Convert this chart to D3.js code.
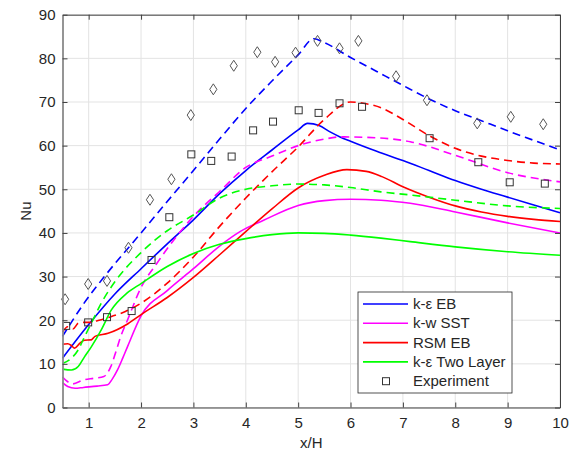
<!DOCTYPE html>
<html>
<head>
<meta charset="utf-8">
<script src="https://cdn.jsdelivr.net/npm/d3@7"></script>
<style>
  body { margin: 0; background: #fff; }
  text { font-family: "Liberation Sans", Arial, sans-serif; fill: #262626; }
</style>
</head>
<body>
<div class="chart"></div>
<script>
// k-e EB (solid / dashed)
const keEB_x = [0.5, 1, 1.5, 2, 2.5, 3, 3.5, 4, 4.5, 5, 5.18, 5.4, 5.6, 5.8, 6, 6.5, 7, 7.5, 8, 8.5, 9, 9.5, 10];
const keEB_y = [11.3, 19, 26, 31.8, 37.5, 43, 49, 54.3, 59, 63.6, 65.1, 64.6, 63.2, 62, 61, 58.7, 56.6, 54.3, 52, 50, 48.2, 46.4, 44.6];
const keEB2_x = [0.5, 0.9, 1.3, 2, 2.5, 3, 3.5, 4, 4.5, 5, 5.3, 5.5, 6, 6.5, 7, 7.5, 8, 8.5, 9, 9.5, 10];
const keEB2_y = [16.3, 23.7, 30, 40, 47.2, 54.3, 61.5, 68.5, 74.8, 80.8, 84.5, 83.6, 80.2, 77, 73.8, 70.7, 68, 65.7, 63.4, 61.2, 59];

// k-w SST
const kwSST_x = [0.5, 0.6, 0.74, 0.9, 1.16, 1.36, 1.45, 1.55, 1.65, 1.74, 2, 2.5, 3, 3.5, 3.89, 4.34, 5, 5.5, 6, 6.58, 7.14, 8, 9, 10];
const kwSST_y = [5.7, 4.8, 4.4, 4.6, 4.9, 5.2, 6.5, 8.6, 11.3, 13.9, 21, 26.8, 31.8, 37, 40.3, 42.9, 46.3, 47.4, 47.7, 47.5, 46.8, 44.8, 42.3, 40];
const kwSST2_x = [0.5, 0.6, 0.69, 0.9, 1.1, 1.29, 1.42, 1.52, 1.61, 1.74, 2, 2.3, 2.6, 3, 3.5, 4, 4.5, 5, 5.5, 5.81, 6.3, 7.14, 8, 9, 10];
const kwSST2_y = [7.0, 5.9, 5.4, 6.3, 6.7, 7.1, 9.3, 12.8, 16.2, 20, 27.5, 33, 38, 43.8, 49.5, 55, 57.6, 60, 61.5, 62, 61.9, 60.9, 57.8, 53.8, 51.7];

// RSM EB
const rsm_x = [0.5, 0.6, 0.67, 0.73, 0.83, 0.92, 1.05, 1.12, 1.37, 1.75, 2, 2.5, 3, 3.5, 4, 4.5, 5, 5.5, 5.93, 6.3, 6.6, 7, 7.5, 8, 8.5, 9, 9.5, 10];
const rsm_y = [14.5, 14.6, 14.2, 13.6, 14.7, 15.4, 15.5, 16.3, 17, 19.2, 21.3, 25.2, 29.8, 35, 40.3, 45.5, 50.3, 53.2, 54.5, 54.1, 52.9, 50.6, 48.2, 46.2, 44.8, 43.8, 43.1, 42.6];
const rsm2_x = [0.5, 0.6, 0.7, 0.8, 0.9, 1, 1.2, 1.4, 1.7, 2, 2.5, 3, 3.5, 4, 4.5, 5, 5.5, 6, 6.3, 6.6, 7, 7.5, 8, 8.5, 9, 9.5, 10];
const rsm2_y = [17.3, 18.5, 18.0, 19.3, 19.5, 19.5, 20, 20.7, 22, 23.9, 28.5, 34.5, 41.5, 48, 54, 59.7, 66, 70, 69.6, 68.6, 66, 62.3, 59.4, 57.6, 56.6, 56, 55.8];

// k-e Two Layer
const twoL_x = [0.5, 0.67, 0.8, 0.92, 1.05, 1.24, 1.43, 1.73, 2, 2.5, 3, 3.5, 4, 4.5, 5, 5.5, 6, 6.58, 7.14, 8, 9, 10];
const twoL_y = [8.8, 8.6, 9.4, 11.6, 13.9, 17.8, 22.3, 26.2, 28.4, 32.3, 35.3, 37.4, 38.7, 39.6, 40, 39.9, 39.5, 38.8, 38, 36.8, 35.7, 34.9];
const twoL2_x = [0.5, 0.67, 0.8, 0.92, 1.05, 1.24, 1.5, 2, 2.5, 3, 3.5, 4, 4.5, 5, 5.5, 6, 6.58, 7.14, 8, 9, 10];
const twoL2_y = [10.1, 11.3, 13.2, 16.2, 19.3, 23.9, 28.8, 35.5, 40.5, 44.1, 48, 50, 50.8, 51.2, 51, 50.4, 49.4, 48.7, 47.5, 46.2, 45.6];

// experiment (squares) and second data set (diamonds)
const exp_x = [0.57, 0.99, 1.35, 1.82, 2.2, 2.54, 2.96, 3.34, 3.73, 4.14, 4.52, 5.01, 5.39, 5.79, 6.22, 7.51, 8.44, 9.04, 9.71];
const exp_y = [18.7, 19.5, 20.7, 22.1, 33.8, 43.6, 58, 56.5, 57.5, 63.5, 65.5, 68.1, 67.5, 69.7, 68.9, 61.7, 56.2, 51.6, 51.3];
const dia_x = [0.55, 0.99, 1.35, 1.76, 2.17, 2.58, 2.95, 3.38, 3.77, 4.22, 4.56, 4.95, 5.37, 5.79, 6.15, 6.87, 7.46, 8.42, 9.06, 9.68];
const dia_y = [24.8, 28.3, 29, 36.6, 47.6, 52.3, 67, 72.9, 78.3, 81.4, 79.2, 81.3, 84, 82.3, 84, 75.9, 70.4, 65.1, 66.6, 64.9];

const xTicks = [1, 2, 3, 4, 5, 6, 7, 8, 9, 10];
const yTicks = [0, 10, 20, 30, 40, 50, 60, 70, 80, 90];

const series = [
  {x: keEB_x, y: keEB_y, color: "#0000ff", dash: null},
  {x: keEB2_x, y: keEB2_y, color: "#0000ff", dash: "8,5"},
  {x: kwSST_x, y: kwSST_y, color: "#ff00ff", dash: null},
  {x: kwSST2_x, y: kwSST2_y, color: "#ff00ff", dash: "8,5"},
  {x: rsm_x, y: rsm_y, color: "#ff0000", dash: null},
  {x: rsm2_x, y: rsm2_y, color: "#ff0000", dash: "8,5"},
  {x: twoL_x, y: twoL_y, color: "#00ff00", dash: null},
  {x: twoL2_x, y: twoL2_y, color: "#00ff00", dash: "8,5"}
];

const legendItems = [
  {name: "k-ε EB", color: "#0000ff"},
  {name: "k-w SST", color: "#ff00ff"},
  {name: "RSM EB", color: "#ff0000"},
  {name: "k-ε Two Layer", color: "#00ff00"},
  {name: "Experiment", color: null}
];

const W = 574, H = 457;
const margin = {top: 14.7, right: 14, bottom: 49.5, left: 62.5};
const width = W - margin.left - margin.right;
const height = H - margin.top - margin.bottom;

const svg = d3.select(".chart").append("svg")
  .attr("width", W)
  .attr("height", H)
  .append("g")
  .attr("transform", `translate(${margin.left},${margin.top})`);

const xScale = d3.scaleLinear().domain([0.5, 10]).range([0, width]);
const yScale = d3.scaleLinear().domain([0, 90]).range([height, 0]);

// grid
svg.append("g").selectAll("line").data(xTicks).enter().append("line")
  .attr("x1", d => xScale(d)).attr("x2", d => xScale(d))
  .attr("y1", 0).attr("y2", height)
  .attr("stroke", "#e3e3e3").attr("stroke-width", 1);
svg.append("g").selectAll("line").data(yTicks).enter().append("line")
  .attr("x1", 0).attr("x2", width)
  .attr("y1", d => yScale(d)).attr("y2", d => yScale(d))
  .attr("stroke", "#e3e3e3").attr("stroke-width", 1);

// curves
const line = d3.line()
  .x(d => xScale(d[0]))
  .y(d => yScale(d[1]))
  .curve(d3.curveMonotoneX);

series.forEach(s => {
  svg.append("path")
    .datum(s.x.map((v, i) => [v, s.y[i]]))
    .attr("d", line)
    .attr("fill", "none")
    .attr("stroke", s.color)
    .attr("stroke-width", 1.6)
    .attr("stroke-dasharray", s.dash);
});

// markers
svg.append("g").selectAll("rect")
  .data(exp_x.map((v, i) => [v, exp_y[i]]))
  .enter().append("rect")
  .attr("x", d => xScale(d[0]) - 3.5)
  .attr("y", d => yScale(d[1]) - 3.5)
  .attr("width", 7).attr("height", 7)
  .attr("fill", "none")
  .attr("stroke", "#333").attr("stroke-width", 1);

svg.append("g").selectAll("path")
  .data(dia_x.map((v, i) => [v, dia_y[i]]))
  .enter().append("path")
  .attr("transform", d => `translate(${xScale(d[0])},${yScale(d[1])})`)
  .attr("d", "M0,-5.5L3.6,0L0,5.5L-3.6,0Z")
  .attr("fill", "none")
  .attr("stroke", "#555").attr("stroke-width", 1);

// axes (ticks inside, box on)
const xAxis = d3.axisBottom(xScale).tickValues(xTicks).tickSizeInner(-5).tickSizeOuter(0).tickPadding(10);
const yAxis = d3.axisLeft(yScale).tickValues(yTicks).tickSizeInner(-5).tickSizeOuter(0).tickPadding(7);

svg.append("g")
  .attr("class", "x-axis")
  .attr("transform", `translate(0, ${height})`)
  .call(xAxis);
svg.append("g")
  .attr("class", "y-axis")
  .call(yAxis);
svg.append("g")
  .attr("class", "x-axis-top")
  .call(d3.axisTop(xScale).tickValues(xTicks).tickSizeInner(-5).tickSizeOuter(0).tickFormat(""));
svg.append("g")
  .attr("class", "y-axis-right")
  .attr("transform", `translate(${width}, 0)`)
  .call(d3.axisRight(yScale).tickValues(yTicks).tickSizeInner(-5).tickSizeOuter(0).tickFormat(""));

svg.selectAll(".domain").attr("stroke", "#404040");
svg.select(".y-axis .domain").attr("stroke", "#8a8a8a").attr("stroke-width", 1.8);
svg.selectAll(".tick line").attr("stroke", "#404040");
svg.selectAll(".tick text")
  .attr("font-size", "15px")
  .attr("font-family", "Liberation Sans, Arial, sans-serif")
  .attr("fill", "#262626");

svg.append("text")
  .attr("x", width / 2)
  .attr("y", height + 41)
  .attr("text-anchor", "middle")
  .attr("font-size", "15px")
  .text("x/H");

svg.append("text")
  .attr("transform", `translate(${-32}, ${height / 2}) rotate(-90)`)
  .attr("text-anchor", "middle")
  .attr("font-size", "15px")
  .text("Nu");

// legend
const lg = svg.append("g").attr("transform", `translate(${358 - margin.left}, ${292 - margin.top})`);
lg.append("rect")
  .attr("width", 154).attr("height", 101)
  .attr("fill", "#fff").attr("stroke", "#262626").attr("stroke-width", 0.8);

legendItems.forEach((d, i) => {
  const y = 12 + i * 19.3;
  if (d.color) {
    lg.append("line")
      .attr("x1", 5).attr("x2", 50)
      .attr("y1", y).attr("y2", y)
      .attr("stroke", d.color).attr("stroke-width", 1.6);
  } else {
    lg.append("rect")
      .attr("x", 24.5).attr("y", y - 3.5)
      .attr("width", 7).attr("height", 7)
      .attr("fill", "none").attr("stroke", "#333");
  }
  lg.append("text")
    .attr("x", 55).attr("y", y + 5)
    .attr("font-size", "15px")
    .text(d.name);
});
</script>
</body>
</html>
